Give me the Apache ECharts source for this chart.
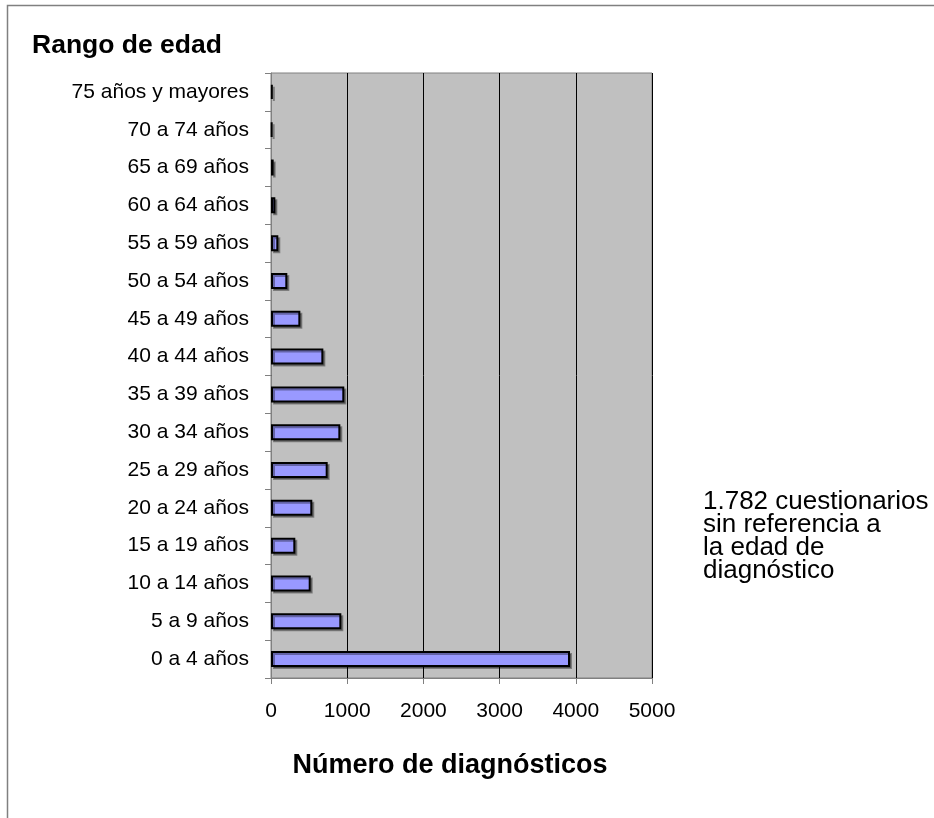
<!DOCTYPE html>
<html><head><meta charset="utf-8">
<script src="https://cdn.jsdelivr.net/npm/echarts@6/dist/echarts.min.js"></script>
<style>html,body{margin:0;padding:0;background:#fff}#c{width:934px;height:818px}</style>
</head><body><div id="c"></div>
<script>
const categories = ["0 a 4 años","5 a 9 años","10 a 14 años","15 a 19 años","20 a 24 años","25 a 29 años","30 a 34 años","35 a 39 años","40 a 44 años","45 a 49 años","50 a 54 años","55 a 59 años","60 a 64 años","65 a 69 años","70 a 74 años","75 años y mayores"];
const diagnosticos = [3924, 923, 521, 319, 542, 744, 910, 962, 687, 385, 214, 96, 57, 35, 17, 22];
const xTicks = [0, 1000, 2000, 3000, 4000, 5000];
const yTitle = "Rango de edad";
const xTitle = "Número de diagnósticos";
const noteLines = ["1.782 cuestionarios", "sin referencia a", "la edad de", "diagnóstico"];

const chart = echarts.init(document.getElementById('c'));
const F = "'Liberation Sans', Arial, sans-serif";
const graphics = [
  {type:'rect', shape:{x:7.5,y:5.5,width:960,height:840}, style:{fill:'none', stroke:'#808080', lineWidth:1.5}, z:-10},
  {type:'text', x:32, y:46, style:{text:yTitle, font:"bold 26.5px "+F, fill:'#000', verticalAlign:'middle'}},
  {type:'text', x:450, y:766, style:{text:xTitle, font:"bold 27px "+F, fill:'#000', align:'center', verticalAlign:'middle'}}
];
noteLines.forEach((t, i) => {
  graphics.push({type:'text', x:703, y:502 + i*23, style:{text:t, font:"26px "+F, fill:'#000', verticalAlign:'middle'}});
});
chart.setOption({
  animation: false,
  textStyle: {fontFamily: F},
  graphic: graphics,
  grid: {left:271, top:73, width:381, height:605, show:true, backgroundColor:'#C0C0C0', borderColor:'#808080', borderWidth:1, containLabel:false},
  xAxis: {
    type:'value', min:xTicks[0], max:xTicks[xTicks.length-1], interval:1000,
    axisLine:{show:true, lineStyle:{color:'#808080'}},
    axisTick:{show:true, length:6, lineStyle:{color:'#808080'}},
    axisLabel:{fontSize:21, color:'#000', margin:23, fontFamily:F, formatter: v => String(v)},
    splitLine:{show:true, lineStyle:{color:'#000', width:1}}
  },
  yAxis: {
    type:'category', data:categories,
    axisLine:{show:true, lineStyle:{color:'#808080'}},
    axisTick:{show:true, length:6, lineStyle:{color:'#808080'}},
    axisLabel:{fontSize:21, color:'#000', margin:22, fontFamily:F},
    splitLine:{show:false}
  },
  series: [{
    type:'bar', data:diagnosticos, barWidth:16,
    itemStyle:{color:'#9999FF', borderColor:'#000', borderWidth:2, shadowColor:'rgba(0,0,0,0.35)', shadowOffsetX:2, shadowOffsetY:2}
  }]
});
</script></body></html>
